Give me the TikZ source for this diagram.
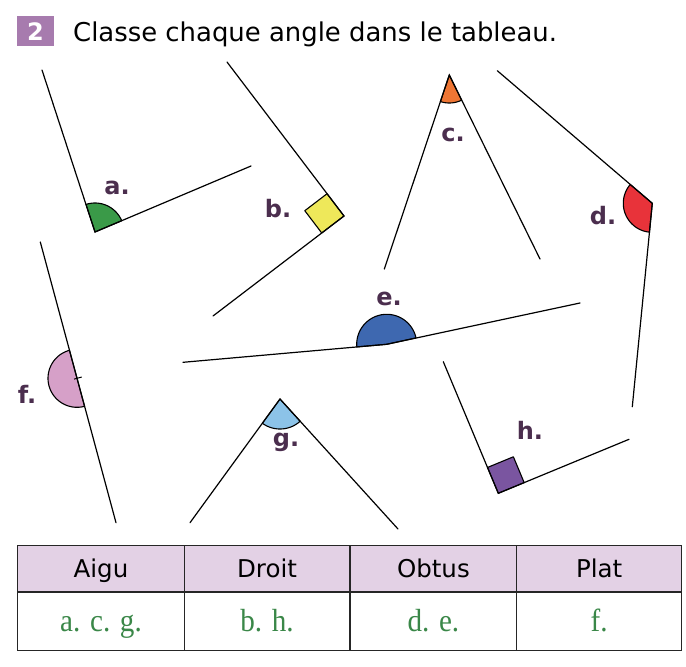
\documentclass[tikz,border=0pt]{standalone}
\usepackage{fontspec}
\setmainfont{DejaVu Sans}
\newfontfamily\greenserif[FakeStretch=0.91]{Liberation Serif}
\usetikzlibrary{calc}
\definecolor{titlebox}{HTML}{A77BAE}
\definecolor{labcol}{HTML}{4B2E4E}
\definecolor{hdrfill}{HTML}{E3D1E5}
\definecolor{anscol}{HTML}{3A8748}
\definecolor{colA}{HTML}{3A9A48}
\definecolor{colB}{HTML}{EEE85A}
\definecolor{colC}{HTML}{EE7634}
\definecolor{colD}{HTML}{E8333A}
\definecolor{colE}{HTML}{3E68B0}
\definecolor{colF}{HTML}{D6A0C8}
\definecolor{colG}{HTML}{8CC3E8}
\definecolor{colH}{HTML}{7A55A0}
\tikzset{
  ray/.style={line width=1.2pt, line cap=round},
  anglemark/.style={draw=black, line width=1.1pt, line join=round},
  anglab/.style={font=\fontsize{24}{28}\selectfont\bfseries, text=labcol, anchor=base, inner sep=0pt},
  hdrtxt/.style={font=\fontsize{24.5}{28}\selectfont, anchor=base, inner sep=0pt},
  anstxt/.style={font=\greenserif\fontsize{32}{36}\selectfont, text=anscol, anchor=base, inner sep=0pt},
  tabline/.style={draw=black!85, line width=1.3pt},
}
\begin{document}
\begin{tikzpicture}[x=1pt,y=-1pt]
\useasboundingbox (0,0) rectangle (686,667);
% title
\fill[titlebox] (17,16) rectangle (54,46);
\node[font=\fontsize{24}{28}\selectfont\bfseries, text=white, inner sep=0pt] (num) at (35.5,31.5) {2};
\node[font=\fontsize{25.9}{30}\selectfont, anchor=base west, inner sep=0pt] (title) at (73,41) {Classe chaque angle dans le tableau.};

% angle a
\coordinate (Va) at (95,232);
\coordinate (Aa1) at (42,70);
\coordinate (Aa2) at (251,166);
\filldraw[anglemark, fill=colA] (Va) -- plot[domain=-108.1:-22.9, samples=40] ({95+29*cos(\x)},{232+29*sin(\x)}) -- cycle;
\draw[ray] (Aa1) -- (Va) -- (Aa2);
\node[anglab] (la) at (117,194) {a.};

% angle b (right)
\coordinate (Vb) at (344,216);
\coordinate (Ab1) at (227,62);
\coordinate (Ab2) at (213,316);
\coordinate (Sb1) at ($(Vb)!28pt!(Ab1)$);
\coordinate (Sb2) at ($(Vb)!28pt!(Ab2)$);
\filldraw[anglemark, fill=colB] (Vb) -- (Sb1) -- ($(Sb1)+(Sb2)-(Vb)$) -- (Sb2) -- cycle;
\draw[ray] (Ab1) -- (Vb) -- (Ab2);
\node[anglab] (lb) at (278,217) {b.};

% angle c
\coordinate (Vc) at (449.3,75);
\coordinate (Ac1) at (384.3,269);
\coordinate (Ac2) at (540,259);
\filldraw[anglemark, fill=colC] (Vc) -- plot[domain=63.8:108.5, samples=30] ({449.3+28*cos(\x)},{75+28*sin(\x)}) -- cycle;
\draw[ray] (Ac1) -- (Vc) -- (Ac2);
\node[anglab] (lc) at (453,141.5) {c.};

% angle d
\coordinate (Vd) at (652.3,203.3);
\coordinate (Ad1) at (497.3,70.7);
\coordinate (Ad2) at (632.3,406.7);
\filldraw[anglemark, fill=colD] (Vd) -- plot[domain=95.6:220.5, samples=50] ({652.3+29*cos(\x)},{203.3+29*sin(\x)}) -- cycle;
\draw[ray] (Ad1) -- (Vd) -- (Ad2);
\node[anglab] (ld) at (603,224) {d.};

% angle e
\coordinate (Ve) at (386.7,344.3);
\coordinate (Ae1) at (183,362.3);
\coordinate (Ae2) at (580,303);
\filldraw[anglemark, fill=colE] (Ve) -- plot[domain=174.95:347.7, samples=60] ({386.7+30*cos(\x)},{344.3+30*sin(\x)}) -- cycle;
\draw[ray] (Ae1) -- (Ve) -- (Ae2);
\node[anglab] (le) at (389,305) {e.};

% angle f (flat)
\coordinate (Vf) at (77,378.3);
\coordinate (Af1) at (40.3,242);
\coordinate (Af2) at (116,522.7);
\filldraw[anglemark, fill=colF] (Vf) -- plot[domain=74.9:254.9, samples=60] ({77+29*cos(\x)},{378.3+29*sin(\x)}) -- cycle;
\draw[ray] (Af1) -- (Af2);
\draw[line width=1pt] ($(Vf)+(-2.9,0.8)$) -- ($(Vf)+(4.8,-1.3)$);
\node[anglab] (lf) at (27,403) {f.};

% angle g
\coordinate (Vg) at (280,399);
\coordinate (Ag1) at (190,522.7);
\coordinate (Ag2) at (398,529);
\filldraw[anglemark, fill=colG] (Vg) -- plot[domain=47.8:126, samples=30] ({280+30*cos(\x)},{399+30*sin(\x)}) -- cycle;
\draw[ray] (Ag1) -- (Vg) -- (Ag2);
\node[anglab] (lg) at (286,446) {g.};

% angle h (right)
\coordinate (Vh) at (498.3,493.3);
\coordinate (Ah1) at (443.3,361.7);
\coordinate (Ah2) at (629,439.3);
\coordinate (Sh1) at ($(Vh)!28pt!(Ah1)$);
\coordinate (Sh2) at ($(Vh)!28pt!(Ah2)$);
\filldraw[anglemark, fill=colH] (Vh) -- (Sh1) -- ($(Sh1)+(Sh2)-(Vh)$) -- (Sh2) -- cycle;
\draw[ray] (Ah1) -- (Vh) -- (Ah2);
\node[anglab] (lh) at (530,439) {h.};

% table
\fill[hdrfill] (17.7,545.7) rectangle (681.7,592);
\draw[tabline] (17.7,545.7) rectangle (681.7,650.7);
\draw[tabline] (17.7,592) -- (681.7,592);
\draw[tabline] (184.3,545.7) -- (184.3,650.7);
\draw[tabline] (350,545.7) -- (350,650.7);
\draw[tabline] (516.7,545.7) -- (516.7,650.7);
\node[hdrtxt] (h1) at (101,577.5) {Aigu};
\node[hdrtxt] (h2) at (267,577.5) {Droit};
\node[hdrtxt] (h3) at (433.4,577.5) {Obtus};
\node[hdrtxt] (h4) at (599.2,577.5) {Plat};
\node[anstxt] (r1) at (101,631.5) {a. c. g.};
\node[anstxt] (r2) at (267,631.5) {b. h.};
\node[anstxt] (r3) at (433.4,631.5) {d. e.};
\node[anstxt] (r4) at (599.2,631.5) {f.};
\end{tikzpicture}
\end{document}
